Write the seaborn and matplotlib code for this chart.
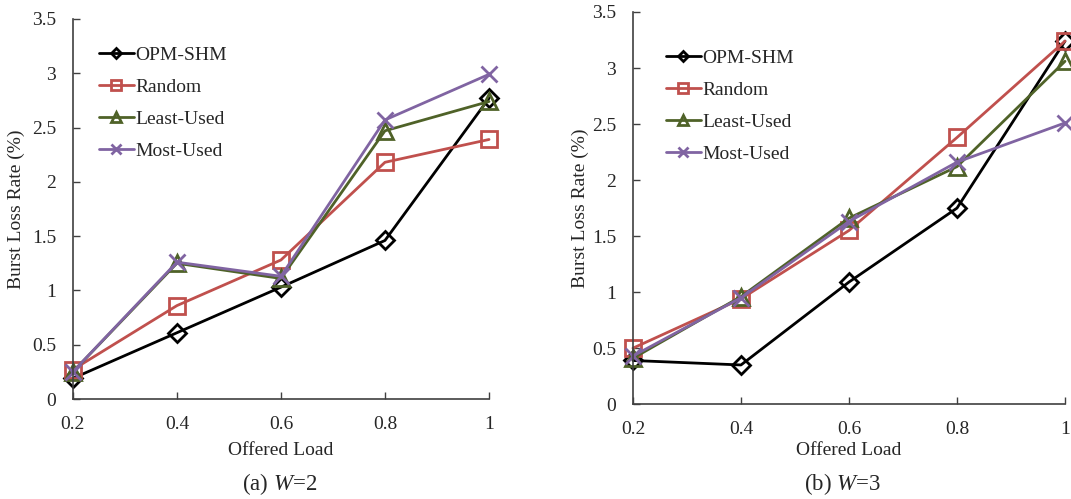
import matplotlib
matplotlib.use("Agg")
import matplotlib.pyplot as plt
import seaborn as sns
import pandas as pd

loads = [0.2, 0.4, 0.6, 0.8, 1.0]
series_names = ["OPM-SHM", "Random", "Least-Used", "Most-Used"]

w2_opm = [0.19, 0.61, 1.03, 1.46, 2.77]
w2_random = [0.27, 0.86, 1.28, 2.18, 2.39]
w2_least = [0.25, 1.25, 1.11, 2.47, 2.74]
w2_most = [0.25, 1.26, 1.13, 2.57, 2.99]

w3_opm = [0.39, 0.35, 1.09, 1.75, 3.24]
w3_random = [0.50, 0.94, 1.55, 2.38, 3.24]
w3_least = [0.41, 0.96, 1.66, 2.12, 3.06]
w3_most = [0.43, 0.95, 1.63, 2.16, 2.51]

x_ticks = [0.2, 0.4, 0.6, 0.8, 1.0]
x_ticklabels = ["0.2", "0.4", "0.6", "0.8", "1"]
y_ticks = [0, 0.5, 1, 1.5, 2, 2.5, 3, 3.5]
y_ticklabels = ["0", "0.5", "1", "1.5", "2", "2.5", "3", "3.5"]

sns.set_theme(style="ticks")
plt.rcParams["font.family"] = ["Liberation Serif", "DejaVu Serif"]
plt.rcParams["mathtext.fontset"] = "custom"
plt.rcParams["mathtext.rm"] = "Liberation Serif"
plt.rcParams["mathtext.it"] = "Liberation Serif:italic"

palette = {"OPM-SHM": "#000000", "Random": "#C0504D",
           "Least-Used": "#4F6228", "Most-Used": "#8064A2"}
markers = {"OPM-SHM": "D", "Random": "s", "Least-Used": "^", "Most-Used": "x"}
msizes = {"OPM-SHM": 9, "Random": 11, "Least-Used": 12, "Most-Used": 12}


def make_df(vals):
    rows = []
    for name, v in zip(series_names, vals):
        for x, y in zip(loads, v):
            rows.append({"load": x, "rate": y, "series": name})
    return pd.DataFrame(rows)


df_a = make_df([w2_opm, w2_random, w2_least, w2_most])
df_b = make_df([w3_opm, w3_random, w3_least, w3_most])

fig = plt.figure(figsize=(10.71, 4.99), dpi=100)
ax_a = fig.add_axes([0.068, 0.2004, 0.3886, 0.7616])
ax_b = fig.add_axes([0.591, 0.190, 0.4034, 0.786])

configs = [
    (ax_a, df_a, "(a) $W$=2", 0.2615, 0.02, 0.975, 7, 5),
    (ax_b, df_b, "(b) $W$=3", 0.787, 0.035, 0.95, 3, 2),
]

for ax, df, cap, capx, leg_x, leg_y, xlpad, ylpad in configs:
    sns.lineplot(data=df, x="load", y="rate", hue="series", palette=palette,
                 hue_order=series_names, ax=ax, linewidth=2, legend=False)
    for line, name in zip(ax.get_lines(), series_names):
        line.set_marker(markers[name])
        line.set_markersize(msizes[name])
        line.set_markerfacecolor("none")
        line.set_markeredgecolor(palette[name])
        line.set_markeredgewidth(2)
        line.set_clip_on(False)
        line.set_label(name)
    ax.set_xlim(0.2, 1.0)
    ax.set_ylim(0, 3.5)
    ax.set_xticks(x_ticks)
    ax.set_xticklabels(x_ticklabels)
    ax.set_yticks(y_ticks)
    ax.set_yticklabels(y_ticklabels)
    ax.tick_params(direction="in", length=5, width=1, labelsize=14,
                   color="#404040", pad=12)
    for s in ["top", "right"]:
        ax.spines[s].set_visible(False)
    for s in ["left", "bottom"]:
        ax.spines[s].set_linewidth(1.2)
        ax.spines[s].set_color("#404040")
    ax.set_xlabel("Offered Load", fontsize=14, labelpad=xlpad)
    ax.set_ylabel("Burst Loss Rate (%)", fontsize=14, labelpad=ylpad)
    fig.text(capx, 0.03, cap, ha="center", va="center", fontsize=16.5)
    ax.legend(handles=ax.get_lines(), labels=series_names, loc="upper left",
              bbox_to_anchor=(leg_x, leg_y), frameon=False, fontsize=14,
              handlelength=1.8, handletextpad=0.1, labelspacing=0.75,
              markerscale=0.6)

fig.savefig("out.png", dpi=100)
